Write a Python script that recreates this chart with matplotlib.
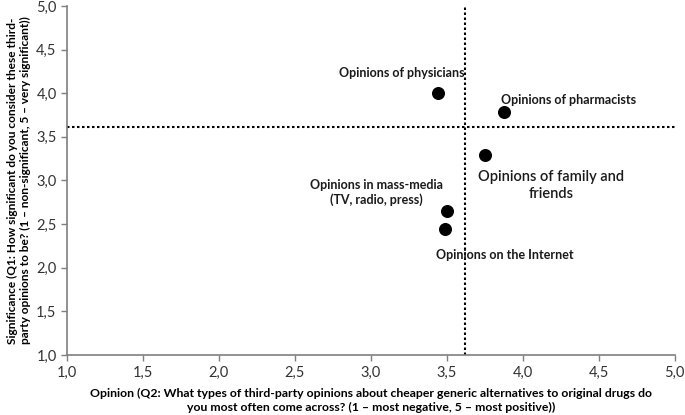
import matplotlib
matplotlib.use("Agg")
import matplotlib.pyplot as plt

plt.rcParams['font.family'] = ['Lato', 'DejaVu Sans']

# 数据：五类第三方意见（x = 意见倾向, y = 重要性）
sources = ['Opinions of physicians', 'Opinions of pharmacists',
           'Opinions of family and\nfriends', 'Opinions in mass-media\n(TV, radio, press)',
           'Opinions on the Internet']
opinion = [3.44, 3.88, 3.75, 3.50, 3.49]
significance = [4.00, 3.79, 3.29, 2.65, 2.44]

# 均值参考线
mean_opinion = 3.62
mean_significance = 3.61

ticks = [1.0, 1.5, 2.0, 2.5, 3.0, 3.5, 4.0, 4.5, 5.0]
tick_labels = [f'{t:.1f}'.replace('.', ',') for t in ticks]

# 标签位置（数据坐标）和样式
label_pos = [(3.62, 4.23, 'right', 9, 'bold'), (3.86, 3.92, 'left', 9, 'bold'),
             (4.19, 2.94, 'center', 10.5, 'semibold'), (3.04, 2.86, 'center', 9, 'bold'),
             (3.88, 2.15, 'center', 9, 'bold')]

fig = plt.figure(figsize=(6.85, 4.15), dpi=100)
ax = fig.add_axes([0.0978, 0.1446, 0.887, 0.841])

ax.scatter(opinion, significance, s=70, color='black', zorder=3)

ax.axvline(mean_opinion, color='black', linestyle=(0, (1.2, 1.2)), linewidth=1.5, zorder=2)
ax.axhline(mean_significance, color='black', linestyle=(0, (1.2, 1.2)), linewidth=1.5, zorder=2)

for name, (tx, ty, ha, fs, fw) in zip(sources, label_pos):
    ax.text(tx, ty, name, ha=ha, va='center', fontsize=fs, fontweight=fw,
            color='#1a1a1a', linespacing=1.25)

ax.set_xlim(1, 5)
ax.set_ylim(1, 5)
ax.set_xticks(ticks)
ax.set_xticklabels(tick_labels)
ax.set_yticks(ticks)
ax.set_yticklabels(tick_labels)
ax.tick_params(labelsize=10.5, colors='#7f7f7f', labelcolor='#333333', length=4, width=1, direction='out')

for side in ['top', 'right']:
    ax.spines[side].set_visible(False)
for side in ['left', 'bottom']:
    ax.spines[side].set_color('#7f7f7f')
    ax.spines[side].set_linewidth(1.2)

ax.set_xlabel('Opinion (Q2: What types of third-party opinions about cheaper generic alternatives to original drugs do\n'
              'you most often come across? (1 – most negative, 5 – most positive))',
              fontsize=8.8, fontweight='bold', labelpad=6, linespacing=1.3)
ax.set_ylabel('Significance (Q1: How significant do you consider these third-\n'
              'party opinions to be? (1 – non-significant, 5 – very significant))',
              fontsize=8.6, fontweight='bold', labelpad=4, linespacing=1.2)

fig.savefig('out.png', dpi=100)
